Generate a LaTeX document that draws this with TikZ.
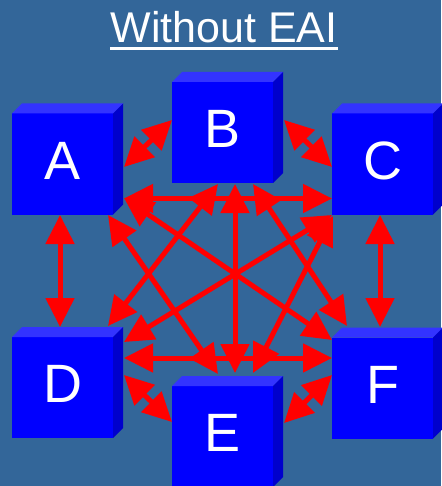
\documentclass[tikz,border=0pt]{standalone}
\usepackage{fontspec}
\setmainfont{Liberation Sans}
\usetikzlibrary{arrows.meta,calc}
\definecolor{bg}{RGB}{51,102,153}
\definecolor{frontblue}{RGB}{0,0,255}
\definecolor{topblue}{RGB}{51,51,255}
\definecolor{sideblue}{RGB}{0,0,204}
\tikzset{
  bigtri/.tip={Triangle[length=29pt,width=28pt]},
  cube/.style={rectangle, fill=frontblue, minimum width=101pt, minimum height=101pt,
    inner sep=0pt, outer sep=0pt, text=white, font=\fontsize{54}{60}\selectfont, text depth=7pt},
  topface/.style={fill=topblue},
  sideface/.style={fill=sideblue},
  link/.style={draw=red, line width=5pt, bigtri-bigtri}
}
\newcommand\cubefaces[1]{%
  \fill[topface] (#1.north west) -- ++(10,-10) -- ($(#1.north east)+(10,-10)$) -- (#1.north east) -- cycle;
  \fill[sideface] (#1.north east) -- ++(10,-10) -- ($(#1.south east)+(10,-10)$) -- (#1.south east) -- cycle;}
\begin{document}
\begin{tikzpicture}[x=1pt,y=-1pt]
\fill[bg] (0,0) rectangle (441,486);
\useasboundingbox (0,0) rectangle (441,486);
% title
\node[text=white, font=\fontsize{43}{50}\selectfont, anchor=base, inner sep=0pt] (title) at (224,43) {Without EAI};
\draw[white, line width=3pt] ($(title.base west)+(0,5.8)$) -- ($(title.base east)+(0,5.8)$);
% boxes
\node[cube] (A) at (62.5,164) {A};
\node[cube] (B) at (222.5,132.5) {B};
\node[cube] (C) at (382.5,164) {C};
\node[cube] (D) at (62.5,387.5) {D};
\node[cube] (E) at (222.5,436.5) {E};
\node[cube] (F) at (382.5,388) {F};
\cubefaces{A}\cubefaces{B}\cubefaces{C}\cubefaces{D}\cubefaces{E}\cubefaces{F}
% short links
\draw[link] ($(A.east)+(11,3)$) -- ($(B.west)+(0,-12.5)$);
\draw[link] ($(B.east)+(11,-12.5)$) -- ($(C.west)+(0,3)$);
\draw[link] ($(D.east)+(11,-12.5)$) -- ($(E.west)+(0,-14.5)$);
\draw[link] ($(E.east)+(11,-13.5)$) -- ($(F.west)+(0,-13)$);
% verticals
\draw[link] ($(A.south)+(-2.5,0.5)$) -- ($(D.north)+(-2.5,-10)$);
\draw[link] ($(C.south)+(-2.5,0.5)$) -- ($(F.north)+(-2.5,-10.5)$);
\draw[link] ($(B.south)+(12.5,1)$) -- ($(E.north)+(12.5,-13)$);
% horizontals
\draw[link] ($(A.south east)+(11,-16)$) -- ($(C.south west)+(0,-16)$);
\draw[link] ($(D.north east)+(11,21)$) -- ($(F.north west)+(0,20.5)$);
% long diagonals
\draw[link] ($(A.south east)+(11,-16.5)$) -- ($(F.north west)+(0,2.5)$);
\draw[link] ($(C.south west)+(0,0.5)$) -- ($(D.north east)+(11,5)$);
% other diagonals
\draw[link] ($(A.south east)+(-5,0.5)$) -- ($(E.north)+(-4.5,-12)$);
\draw[link] ($(B.south)+(-4.5,1)$) -- ($(D.north east)+(-5,-11)$);
\draw[link] ($(B.south)+(30.5,1)$) -- ($(F.north west)+(15,-11.5)$);
\draw[link] ($(C.south west)+(1,1.5)$) -- ($(E.north)+(30.5,-13)$);
\end{tikzpicture}
\end{document}
